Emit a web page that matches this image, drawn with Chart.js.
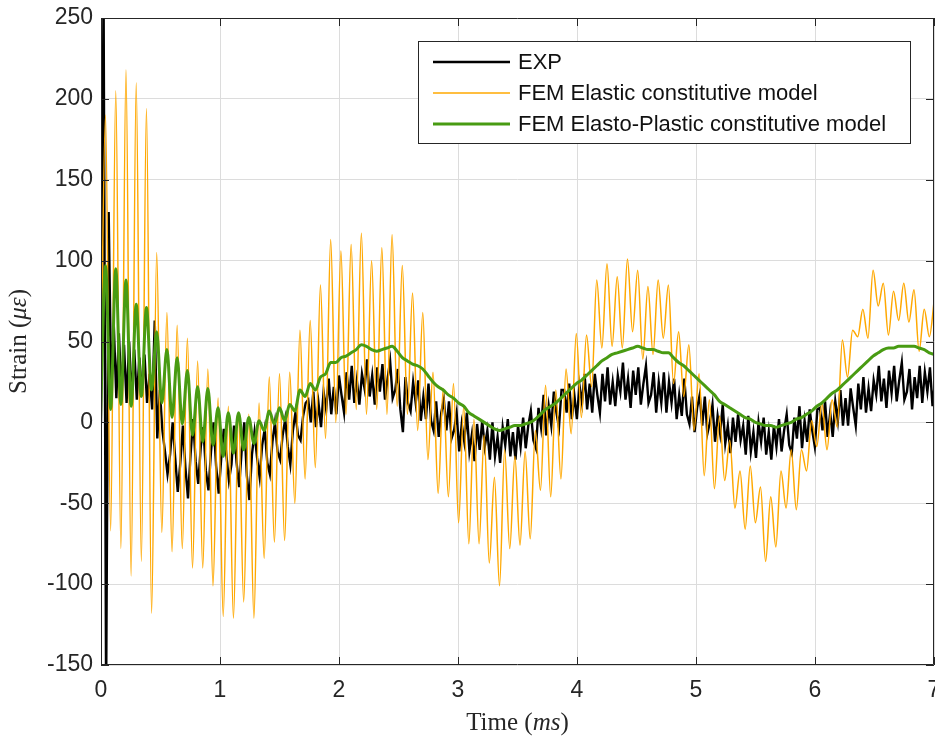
<!DOCTYPE html>
<html>
<head>
<meta charset="utf-8">
<title>Strain history</title>
<script src="https://cdn.jsdelivr.net/npm/chart.js"></script>
<style>
  body { margin: 0; background: #fff; }
  #wrap { width: 935px; height: 740px; }
</style>
</head>
<body>
<div id="wrap"><canvas id="strainChart" width="935" height="740"></canvas></div>
<script>
// axis ticks: time in ms, strain in microstrain
const timeTicks = [0, 1, 2, 3, 4, 5, 6, 7];
const strainTicks = [-150, -100, -50, 0, 50, 100, 150, 200, 250];

const seriesNames = ["EXP", "FEM Elastic constitutive model", "FEM Elasto-Plastic constitutive model"];

// measured gauge signal, one sample every 0.0215 ms
const expStart = 0;
const expStep = 0.0215;
const expStrain = [
  0, 270, -170, 130, 20, 60, 15, 55, 18, 48, 12, 50, 15, 45, 14, 40, 18, 42, 12, 30, 8, 63, -10, 20,
  -5, -18, -32, -20, 0, -22, -43, -25, -2, -28, -47, -20, 2, -24, -38, -15, -3, -30, -42, -18,
  0, -27, -44, -22, -4, -20, -36, -26, -2, -25, -40, -17, 0, -33, -48, -20, -6, -22, -34, -14,
  -4, -25, -32, -12, 0, -18, -23, -8, 2, -15, -26, -5, 6, -8, -11, 4, 12,
  14, 0, 19, -3, 12, -3, 19, 8, 27, 5, 22, 5, 29, 17, 6, 31, 14, 35, 12, 26,
  11, 30, 21, 39, 16, 29, 11, 34, 19, 36, 14, 27, 38, 15, 20, 33, 8, -6, 28, 12,
  7, 25, 12, 26, 1, 16, 2, 24, 1, -5, 13, -9, 6, 14, -5, 13, -10, -5, 6, -18,
  -1, -12, 6, -18, -7, -24, -1, -17, 1, -15, -5, -23, 0, -21, -9, -25, -3, -14, 2, -21,
  -6, -23, -2, -15, 3, -16, -2, 7, -11, -16, 9, -3, 17, -8, 10, -2, 19, 6, -3, 20,
  20, 6, 24, 2, 17, 2, 23, 12, 30, 8, 24, 6, 30, 17, 6, 30, 13, 34, 11, 25,
  10, 29, 19, 37, 14, 27, 9, 32, 17, 34, 11, 24, 35, 12, 17, 31, 6, 25, 12, 31,
  6, 25, 12, 27, 2, 17, 4, 27, 5, -1, 16, -6, 9, 17, -2, 16, -7, 0, 11, -12,
  4, -7, 11, -13, -2, -19, 3, -12, 5, -11, -2, -20, 4, -18, -6, -22, 0, -12, 3, -20,
  -6, -23, -2, -15, 2, -18, -5, 5, -14, -19, 3, -10, 10, -16, 1, -12, 8, -5, -15, 8,
  9, -5, 13, -9, 6, -9, 13, 1, 20, -2, 15, -2, 21, 9, -2, 24, 8, 28, 6, 21,
  7, 26, 17, 35, 13, 27, 9, 32, 18, 35, 13, 26, 37, 14, 19, 33, 8, 28, 15, 35,
  12, 31, 19, 34, 10, 26
];

// FEM results, one value per half oscillation (0.043 ms)
const femStart = -0.005;
const femStep = 0.043;
const elasticStrain = [
  0,
  190, -67, 205, -78, 218, -95, 210, -86, 194, -118, 105, -68, 68, -80, 60, -78,
  52, -90, 38, -90, 33, -101, 15, -120, 10, -121, 5, -111, 5, -121, 12, -84,
  28, -74, 30, -73, 31, -50, 57, -35, 63, -28, 85, -10, 113, 0, 106, 5,
  110, 8, 117, 5, 100, 8, 108, 5, 116, 10, 97, 5, 80, -5, 68, -23,
  31, -44, 21, -46, 24, -62, 10, -75, 2, -75, -8, -87, -34, -101, -17, -78,
  -21, -76, -18, -72, -5, -42, 23, -46, 20, -35, 33, -7, 55, 3, 54, 22,
  88, 46, 98, 47, 90, 46, 101, 56, 94, 39, 84, 42, 88, 52, 85, 24,
  56, 16, 48, -5, 30, -33, 14, -41, 4, -36, -11, -53, -30, -66, -27, -62,
  -40, -86, -46, -77, -30, -53, -17, -54, -17, -30, 1, -15, 12, -17, 14, -3,
  51, 28, 57, 53, 70, 52, 94, 72, 86, 54, 81, 63, 86, 62, 82, 44,
  70, 53, 77
];
const plasticStrain = [
  0,
  97, 8, 95, 11, 88, 10, 73, 16, 71, 20, 56, 12, 45, 3, 40, -1,
  32, -8, 22, -12, 21, -14, 9, -21, 6, -19, 6, -17, 3, -13, 1, -5,
  7, -1, 9, 1, 11, 7, 20, 16, 24, 20, 28, 30, 37, 37, 40, 41,
  43, 45, 48, 47, 45, 44, 45, 46, 47, 44, 40, 38, 36, 35, 33, 29,
  25, 22, 20, 17, 15, 12, 10, 6, 4, 2, 0, -2, -4, -5, -4, -3,
  -2, -2, -1, 0, 2, 5, 8, 10, 12, 15, 18, 21, 24, 26, 29, 32,
  35, 38, 40, 42, 43, 44, 45, 46, 47, 46, 45, 45, 44, 43, 43, 40,
  37, 35, 32, 29, 26, 23, 20, 17, 13, 11, 9, 7, 5, 3, 2, 0,
  -1, -2, -2, -3, -2, -1, 0, 2, 3, 5, 7, 10, 12, 15, 18, 20,
  23, 26, 29, 32, 35, 38, 41, 43, 45, 46, 46, 47, 47, 47, 47, 46,
  45, 43, 42
];

const axisColor = "#262626";
const gridColor = "#dcdcdc";
const sansFont = "'Liberation Sans', Arial, sans-serif";
const serifFont = "'Liberation Serif', 'DejaVu Serif', serif";

function toPoints(values, start, step) {
  return values.map((v, i) => ({ x: +(start + i * step).toFixed(4), y: v }));
}

// box around the plot with inward tick marks, like the MATLAB axes
const framePlugin = {
  id: "frame",
  afterDatasetsDraw(chart) {
    const { ctx, chartArea: a, scales: { x, y } } = chart;
    const tick = 8;
    ctx.save();
    ctx.strokeStyle = axisColor;
    ctx.lineWidth = 1;
    ctx.beginPath();
    ctx.rect(a.left + 0.5, a.top + 0.5, a.right - a.left - 1, a.bottom - a.top - 1);
    timeTicks.forEach(t => {
      const px = Math.round(x.getPixelForValue(t)) + 0.5;
      ctx.moveTo(px, a.bottom); ctx.lineTo(px, a.bottom - tick);
      ctx.moveTo(px, a.top); ctx.lineTo(px, a.top + tick);
    });
    strainTicks.forEach(v => {
      const py = Math.round(y.getPixelForValue(v)) + 0.5;
      ctx.moveTo(a.left, py); ctx.lineTo(a.left + tick, py);
      ctx.moveTo(a.right, py); ctx.lineTo(a.right - tick, py);
    });
    ctx.stroke();
    ctx.restore();
  },
  afterDraw(chart) {
    const { ctx, chartArea: a } = chart;
    ctx.save();

    // legend box in the upper right corner
    const boxW = 492, boxH = 102;
    const bx = Math.round(a.right - 24 - boxW), by = Math.round(a.top + 23);
    ctx.fillStyle = "#fff";
    ctx.fillRect(bx, by, boxW, boxH);
    ctx.strokeStyle = axisColor;
    ctx.lineWidth = 1;
    ctx.strokeRect(bx + 0.5, by + 0.5, boxW, boxH);
    ctx.font = "22px " + sansFont;
    ctx.textBaseline = "middle";
    ctx.textAlign = "left";
    chart.data.datasets.forEach((ds, i) => {
      const ly = by + 21 + i * 31;
      ctx.strokeStyle = ds.borderColor;
      ctx.lineWidth = Math.min(ds.borderWidth, 3);
      ctx.beginPath();
      ctx.moveTo(bx + 15, ly);
      ctx.lineTo(bx + 92, ly);
      ctx.stroke();
      ctx.fillStyle = "#111";
      ctx.fillText(ds.label, bx + 100, ly + 1);
    });

    // axis titles with italic units
    const drawParts = (parts, cx, cy, rotate) => {
      ctx.save();
      ctx.translate(cx, cy);
      if (rotate) ctx.rotate(-Math.PI / 2);
      const fonts = parts.map(p => (p[1] ? "italic " : "") + "25px " + serifFont);
      let total = 0;
      parts.forEach((p, i) => { ctx.font = fonts[i]; total += ctx.measureText(p[0]).width; });
      let px = -total / 2;
      ctx.fillStyle = axisColor;
      ctx.textBaseline = "alphabetic";
      parts.forEach((p, i) => {
        ctx.font = fonts[i];
        ctx.fillText(p[0], px, 0);
        px += ctx.measureText(p[0]).width;
      });
      ctx.restore();
    };
    drawParts([["Time (", false], ["ms", true], [")", false]], (a.left + a.right) / 2, 730, false);
    drawParts([["Strain (", false], ["\u03BC\u03B5", true], [")", false]], 26, (a.top + a.bottom) / 2, true);

    ctx.restore();
  }
};

const ctx = document.getElementById("strainChart").getContext("2d");
const strainChart = new Chart(ctx, {
  type: "line",
  data: {
    datasets: [
      {
        label: seriesNames[0],
        data: toPoints(expStrain, expStart, expStep),
        borderColor: "#000000",
        borderWidth: 2.4,
        pointRadius: 0,
        tension: 0,
        order: 3
      },
      {
        label: seriesNames[1],
        data: toPoints(elasticStrain, femStart, femStep),
        borderColor: "rgb(255,168,0)",
        borderWidth: 1.5,
        pointRadius: 0,
        cubicInterpolationMode: "monotone",
        order: 2
      },
      {
        label: seriesNames[2],
        data: toPoints(plasticStrain, femStart, femStep),
        borderColor: "rgb(72,155,18)",
        borderWidth: 3,
        pointRadius: 0,
        cubicInterpolationMode: "monotone",
        order: 1
      }
    ]
  },
  options: {
    responsive: false,
    animation: false,
    devicePixelRatio: 1,
    layout: { padding: { top: 18, right: 1, left: 0, bottom: 0 } },
    plugins: {
      legend: { display: false },
      tooltip: { enabled: false }
    },
    scales: {
      x: {
        type: "linear",
        min: 0,
        max: 7,
        afterBuildTicks: s => { s.ticks = timeTicks.map(v => ({ value: v })); },
        afterFit: s => { s.height = 75; s.paddingLeft = 0; s.paddingRight = 0; },
        grid: { color: gridColor, drawTicks: false },
        border: { display: false },
        ticks: { font: { family: sansFont, size: 23 }, color: axisColor, padding: 12, maxRotation: 0, autoSkip: false }
      },
      y: {
        type: "linear",
        min: -150,
        max: 250,
        afterBuildTicks: s => { s.ticks = strainTicks.map(v => ({ value: v })); },
        afterFit: s => { s.width = 101; s.paddingTop = 0; s.paddingBottom = 0; },
        grid: { color: gridColor, drawTicks: false },
        border: { display: false },
        ticks: { font: { family: sansFont, size: 23 }, color: axisColor, padding: 8, autoSkip: false }
      }
    }
  },
  plugins: [framePlugin]
});
</script>
</body>
</html>
